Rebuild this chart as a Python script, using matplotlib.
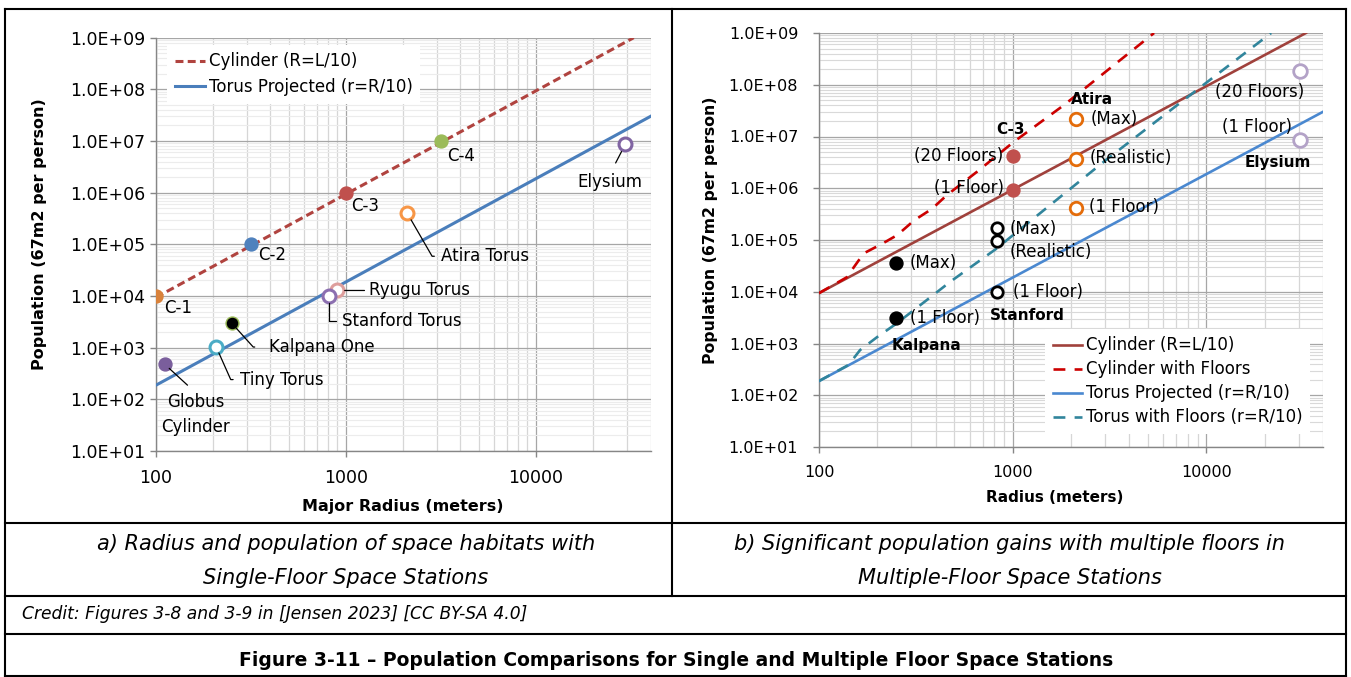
import matplotlib
matplotlib.use("Agg")
import matplotlib.pyplot as plt
import numpy as np
from matplotlib.ticker import LogLocator, FuncFormatter, NullFormatter
from matplotlib.lines import Line2D

W, H = 1351, 677

# ---------------- data: panel a ----------------
x_ticks = [100, 1000, 10000]
y_ticks = [1e1, 1e2, 1e3, 1e4, 1e5, 1e6, 1e7, 1e8, 1e9]

cyl_r = [100, 32650]
cyl_pop = [9.4e3, 1.0e9]
torus_r = [100, 40000]
torus_pop = [188, 3.0e7]

left_names = ["C-1", "C-2", "C-3", "C-4", "Atira Torus", "Elysium",
              "Ryugu Torus", "Stanford Torus", "Kalpana One", "Tiny Torus",
              "Globus\nCylinder"]
left_r = [100, 316, 1000, 3162, 2100, 29500, 900, 818, 250, 207, 111]
left_pop = [1.0e4, 1.0e5, 1.0e6, 1.0e7, 4.0e5, 8.7e6, 1.28e4, 1.0e4, 3.0e3, 1.05e3, 480]

# ---------------- data: panel b ----------------
cylf_r = [100, 139, 160, 173, 211, 254, 284, 310, 383, 458, 655, 1014, 1841, 5370]
cylf_pop = [9.4e3, 1.9e4, 4.0e4, 5.7e4, 8.4e4, 1.25e5, 1.8e5, 2.4e5, 4.0e5, 7.4e5,
            2.09e6, 7.9e6, 4.06e7, 1.0e9]
torf_r = [100, 142, 163, 199, 252, 360, 476, 815, 1439, 3055, 10160, 21600]
torf_pop = [188, 385, 748, 1.32e3, 2.45e3, 6.9e3, 1.56e4, 6.6e4, 3.7e5, 3.6e6, 1.15e8, 1.0e9]

right_labels = ["(Max)", "(1 Floor)", "(Max)", "(Realistic)", "(1 Floor)",
                "(20 Floors)", "(1 Floor)", "(Max)", "(Realistic)", "(1 Floor)",
                "(20 Floors)", "(1 Floor)"]
right_group = ["Kalpana", "Kalpana", "Stanford", "Stanford", "Stanford",
               "C-3", "C-3", "Atira", "Atira", "Atira", "Elysium", "Elysium"]
right_r = [250, 250, 830, 830, 830, 1000, 1000, 2135, 2135, 2135, 30500, 30500]
right_pop = [3.65e4, 3.07e3, 1.68e5, 9.7e4, 1.0e4, 4.25e6, 9.4e5, 2.18e7, 3.6e6,
             4.1e5, 1.85e8, 8.6e6]
group_names = ["Kalpana", "Stanford", "C-3", "Atira", "Elysium"]

# ---------------- figure ----------------
fig = plt.figure(figsize=(W / 100, H / 100), dpi=100)
fig.patch.set_facecolor("white")


def fx(x):
    return x / W


def fy(y):
    return 1 - y / H


ax1 = fig.add_axes([fx(156), fy(451), (650.5 - 156) / W, (451 - 37.7) / H])
ax2 = fig.add_axes([fx(819), fy(447), (1323 - 819) / W, (447 - 33) / H])

for ax, tsize, ypad, minor_y in ((ax1, 12.5, 4, "#ECECEC"), (ax2, 11.5, 11, "#D9D9D9")):
    ax.set_xscale("log")
    ax.set_yscale("log")
    ax.set_xlim(100, 40000)
    ax.set_ylim(10, 1e9)
    ax.set_xticks(x_ticks)
    ax.set_yticks(y_ticks)
    ax.xaxis.set_major_formatter(FuncFormatter(lambda v, p: f"{v:.0f}"))
    ax.yaxis.set_major_formatter(FuncFormatter(lambda v, p: f"{v:.1E}"))
    ax.xaxis.set_minor_locator(LogLocator(10, subs=np.arange(2, 10), numticks=60))
    ax.yaxis.set_minor_locator(LogLocator(10, subs=np.arange(2, 10), numticks=60))
    ax.xaxis.set_minor_formatter(NullFormatter())
    ax.yaxis.set_minor_formatter(NullFormatter())
    ax.tick_params(which="minor", length=0)
    ax.tick_params(which="major", length=4, width=1, color="#868686",
                   direction="out", labelsize=tsize)
    ax.tick_params(axis="y", pad=ypad)
    ax.tick_params(axis="x", pad=9)
    for s in ("top", "right"):
        ax.spines[s].set_visible(False)
    for s in ("left", "bottom"):
        ax.spines[s].set_color("#868686")
        ax.spines[s].set_linewidth(1)
    ax.set_axisbelow(True)
    ax.grid(True, which="major", color="#A6A6A6", lw=0.9)
    ax.grid(True, which="minor", axis="x", color="#D6D6D6", lw=0.9)
    ax.grid(True, which="minor", axis="y", color=minor_y, lw=0.8)

# ---------------- panel a ----------------
ax1.plot(cyl_r, cyl_pop, color="#B0433F", lw=2.2, dashes=(2.6, 1.4),
         label="Cylinder (R=L/10)", zorder=3)
ax1.plot(torus_r, torus_pop, color="#4A7EBB", lw=2.2,
         label="Torus Projected (r=R/10)", zorder=3)

left_style = {
    "C-1": dict(mfc="#D9823B", mec="#D9823B"),
    "C-2": dict(mfc="#4F81BD", mec="#4F81BD"),
    "C-3": dict(mfc="#C0504D", mec="#C0504D"),
    "C-4": dict(mfc="#9BBB59", mec="#9BBB59"),
    "Atira Torus": dict(mfc="white", mec="#F79646", mew=2.2),
    "Elysium": dict(mfc="white", mec="#8064A2", mew=2.2),
    "Ryugu Torus": dict(mfc="white", mec="#DE9E9C", mew=2.2),
    "Stanford Torus": dict(mfc="white", mec="#8C6FB0", mew=2.2),
    "Kalpana One": dict(mfc="black", mec="#9BBB59", mew=1),
    "Tiny Torus": dict(mfc="white", mec="#4BACC6", mew=2.2),
    "Globus\nCylinder": dict(mfc="#7A5E9C", mec="#7A5E9C"),
}
for name, r, p in zip(left_names, left_r, left_pop):
    st = left_style[name]
    ax1.plot([r], [p], "o", ms=9.3, mfc=st["mfc"], mec=st["mec"],
             mew=st.get("mew", 1), zorder=5)

# label layout: offset in pixels, alignment, leader line
left_layout = {
    "C-1": dict(off=(8, -12), ha="left"),
    "C-2": dict(off=(7, -11), ha="left"),
    "C-3": dict(off=(5, -13), ha="left"),
    "C-4": dict(off=(6, -15), ha="left"),
    "Atira Torus": dict(off=(34, -43), ha="left", rel=(0, 0.5),
                        conn="angle,angleA=0,angleB=-60,rad=0", sa=3, sb=5.5),
    "Elysium": dict(off=(-15, -38), ha="center", rel=(0.5, 1),
                    conn="arc3", sa=6, sb=6),
    "Ryugu Torus": dict(off=(32, 0), ha="left", rel=(0, 0.5),
                        conn="arc3", sa=1.5, sb=5.3),
    "Stanford Torus": dict(off=(13, -25), ha="left", rel=(0, 0.5),
                           conn="angle,angleA=0,angleB=90,rad=0", sa=3, sb=5),
    "Kalpana One": dict(off=(37, -24), ha="left", rel=(0, 0.5),
                        conn="angle,angleA=0,angleB=-48,rad=0", sa=8, sb=5),
    "Tiny Torus": dict(off=(24, -33), ha="left", rel=(0, 0.5),
                       conn="angle,angleA=0,angleB=-66,rad=0", sa=3, sb=5),
    "Globus\nCylinder": dict(off=(31, -50), ha="center", rel=(0.5, 1),
                             conn="arc3", sa=5, sb=4.5),
}
for name, r, p in zip(left_names, left_r, left_pop):
    lay = left_layout[name]
    kw = {}
    if "conn" in lay:
        kw["arrowprops"] = dict(arrowstyle="-", color="black", lw=0.9,
                                shrinkA=lay["sa"], shrinkB=lay["sb"],
                                relpos=lay["rel"], connectionstyle=lay["conn"])
    ax1.annotate(name, xy=(r, p), xytext=lay["off"], textcoords="offset pixels",
                 ha=lay["ha"], va="center", fontsize=12, linespacing=1.5,
                 multialignment="center", zorder=6, **kw)

leg1 = ax1.legend(loc="upper left", bbox_to_anchor=(fx(167), fy(45)),
                  bbox_transform=fig.transFigure, borderaxespad=0, fontsize=12,
                  frameon=True, fancybox=False, edgecolor="none", facecolor="white",
                  framealpha=1, borderpad=0.45, handlelength=1.8, handletextpad=0.25,
                  labelspacing=0.45)

# ---------------- panel b ----------------
ax2.plot(cyl_r, cyl_pop, color="#A0413C", lw=1.9, label="Cylinder (R=L/10)", zorder=3)
ax2.plot(cylf_r, cylf_pop, color="#CC0000", lw=1.9, dashes=(4.5, 3.5),
         label="Cylinder with Floors", zorder=3)
ax2.plot(torus_r, torus_pop, color="#4A88D0", lw=1.9,
         label="Torus Projected (r=R/10)", zorder=3)
ax2.plot(torf_r, torf_pop, color="#31859C", lw=1.9, dashes=(4.5, 3.5),
         label="Torus with Floors (r=R/10)", zorder=3)

group_style = {
    "Kalpana": dict(mfc="black", mec="black", mew=1, ms=9.3),
    "Stanford": dict(mfc="white", mec="black", mew=2.0, ms=8.2),
    "C-3": dict(mfc="#C0504D", mec="#C0504D", mew=1, ms=9.3),
    "Atira": dict(mfc="white", mec="#E46C0A", mew=2.0, ms=9.0),
    "Elysium": dict(mfc="white", mec="#B3A2C7", mew=2.0, ms=9.8),
}
for g, r, p in zip(right_group, right_r, right_pop):
    ax2.plot([r], [p], "o", zorder=5, **group_style[g])

right_layout = [
    dict(off=(14, 0), ha="left"),
    dict(off=(14, 0), ha="left"),
    dict(off=(13, -1), ha="left"),
    dict(off=(13, -11), ha="left"),
    dict(off=(16, 0), ha="left"),
    dict(off=(-9, 0), ha="right"),
    dict(off=(-9, 2), ha="right"),
    dict(off=(14, 0), ha="left"),
    dict(off=(13, 1), ha="left"),
    dict(off=(13, 1), ha="left"),
    dict(off=(-41, -21), ha="center"),
    dict(off=(-43, 13), ha="center"),
]
for lab, r, p, lay in zip(right_labels, right_r, right_pop, right_layout):
    ax2.annotate(lab, xy=(r, p), xytext=lay["off"], textcoords="offset pixels",
                 ha=lay["ha"], va="center", fontsize=12, zorder=6)

# group titles, anchored to one point of each group
group_layout = {
    "Kalpana": dict(idx=1, off=(-4, -27), ha="left"),
    "Stanford": dict(idx=4, off=(-7, -24), ha="left"),
    "C-3": dict(idx=5, off=(-2, 26), ha="center"),
    "Atira": dict(idx=7, off=(-6, 19), ha="left"),
    "Elysium": dict(idx=11, off=(-22, -23), ha="center"),
}
for g in group_names:
    lay = group_layout[g]
    i = lay["idx"]
    ax2.annotate(g, xy=(right_r[i], right_pop[i]), xytext=lay["off"],
                 textcoords="offset pixels", ha=lay["ha"], va="center",
                 fontsize=11, fontweight="bold", zorder=6)

leg2 = ax2.legend(loc="upper left", bbox_to_anchor=(fx(1045), fy(329)),
                  bbox_transform=fig.transFigure, borderaxespad=0, fontsize=12,
                  frameon=True, fancybox=False, edgecolor="none", facecolor="white",
                  framealpha=1, borderpad=0.45, handlelength=1.75, handletextpad=0.26,
                  labelspacing=0.36)

# ---------------- axis titles ----------------
fig.text(fx(40), fy(234), "Population (67m2 per person)", rotation=90,
         ha="center", va="center", fontsize=11.5, fontweight="bold")
fig.text(fx(403), fy(507), "Major Radius (meters)", ha="center", va="center",
         fontsize=11.5, fontweight="bold")
fig.text(fx(710), fy(230), "Population (67m2 per person)", rotation=90,
         ha="center", va="center", fontsize=11.3, fontweight="bold")
fig.text(fx(1055), fy(497), "Radius (meters)", ha="center", va="center",
         fontsize=11, fontweight="bold")

# ---------------- table text ----------------
fig.text(fx(346), fy(544), "a) Radius and population of space habitats with",
         ha="center", va="center", fontsize=15, style="italic")
fig.text(fx(346), fy(578), "Single-Floor Space Stations",
         ha="center", va="center", fontsize=15, style="italic")
fig.text(fx(1010), fy(544), "b) Significant population gains with multiple floors in",
         ha="center", va="center", fontsize=15, style="italic")
fig.text(fx(1010), fy(578), "Multiple-Floor Space Stations",
         ha="center", va="center", fontsize=15, style="italic")
fig.text(fx(22), fy(614), "Credit: Figures 3-8 and 3-9 in [Jensen 2023] [CC BY-SA 4.0]",
         ha="left", va="center", fontsize=12.3, style="italic")
fig.text(fx(676), fy(660),
         "Figure 3-11 \u2013 Population Comparisons for Single and Multiple Floor Space Stations",
         ha="center", va="center", fontsize=13.5, fontweight="bold")

# ---------------- table borders ----------------
def hline(y, x0, x1):
    fig.add_artist(Line2D([fx(x0), fx(x1)], [fy(y), fy(y)], transform=fig.transFigure,
                          color="black", lw=1.5, solid_capstyle="projecting"))


def vline(x, y0, y1):
    fig.add_artist(Line2D([fx(x), fx(x)], [fy(y0), fy(y1)], transform=fig.transFigure,
                          color="black", lw=1.5, solid_capstyle="projecting"))


hline(9, 5, 1346)
hline(523, 5, 1346)
hline(596, 5, 1346)
hline(633.5, 5, 1346)
hline(675.5, 5, 1346)
vline(5, 9, 675.5)
vline(1346, 9, 675.5)
vline(671.5, 9, 596)

fig.savefig("out.png", dpi=100, facecolor="white")
